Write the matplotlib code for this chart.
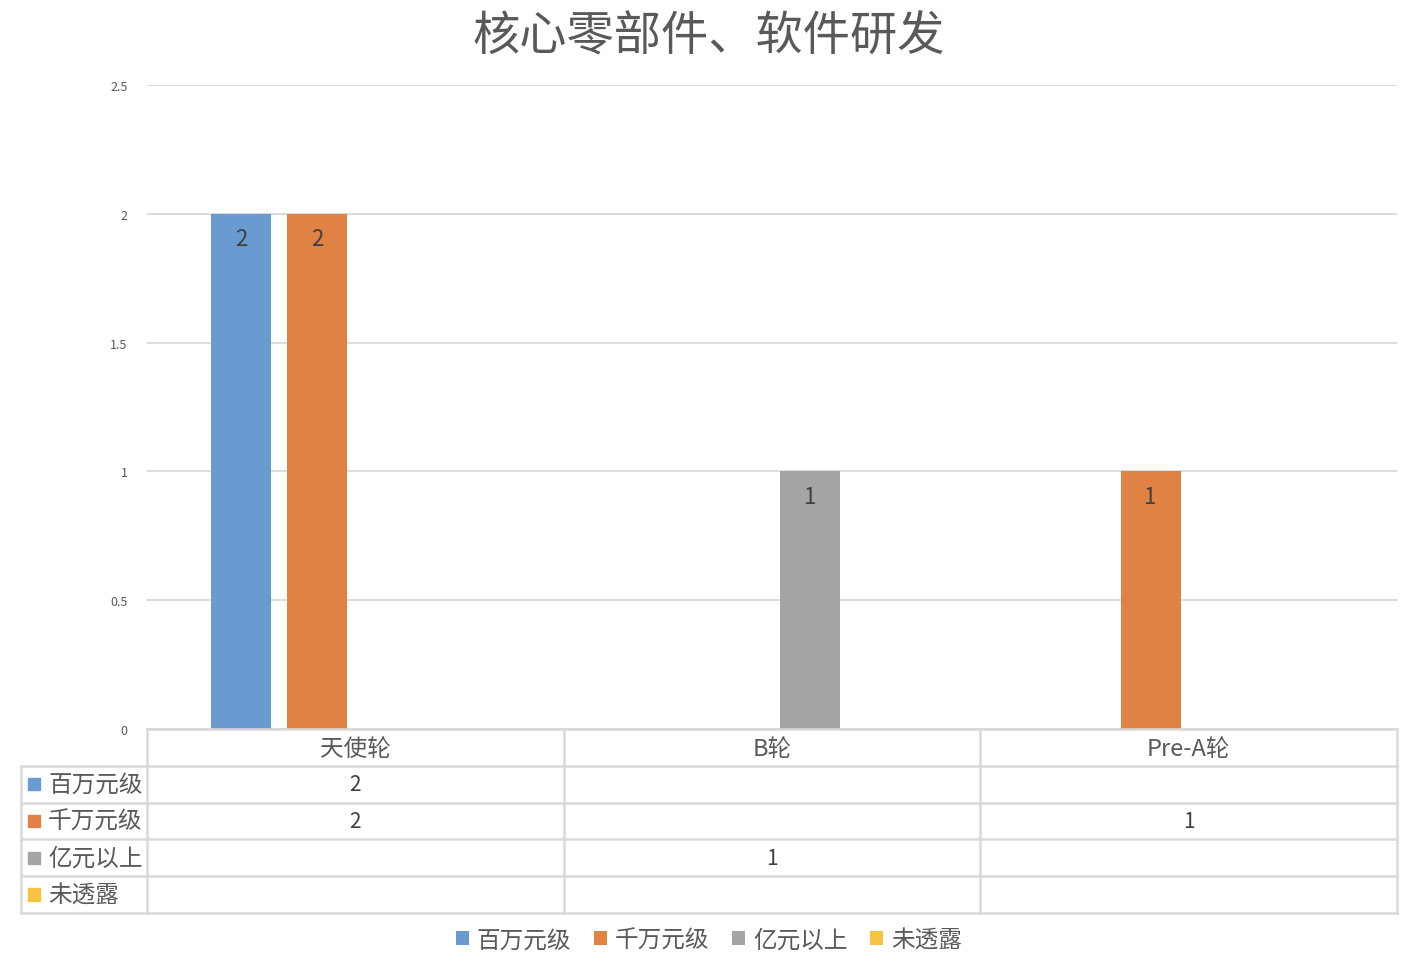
import numpy as np
import matplotlib
matplotlib.use("Agg")
import matplotlib.pyplot as plt
from matplotlib.patches import Patch

plt.rcParams['font.family'] = ['Noto Sans CJK SC', 'DejaVu Sans']

# 数据
categorias = ['天使轮', 'B轮', 'Pre-A轮']
series = ['百万元级', '千万元级', '亿元以上', '未透露']
百万元级 = [2, np.nan, np.nan]
千万元级 = [2, np.nan, 1]
亿元以上 = [np.nan, 1, np.nan]
未透露 = [np.nan, np.nan, np.nan]
valores = [百万元级, 千万元级, 亿元以上, 未透露]
colores = ['#6A9BD0', '#E08244', '#A5A5A5', '#F6C342']

titulo = '核心零部件、软件研发'
yticks = [0, 0.5, 1, 1.5, 2, 2.5]
ytick_labels = ['0', '0.5', '1', '1.5', '2', '2.5']

W, H = 1418, 970
fig = plt.figure(figsize=(W / 100, H / 100), dpi=100)

# ejes principales (en pixeles de la imagen)
izq, der, arriba, abajo = 147, 1397, 86, 730
ax = fig.add_axes([izq / W, (H - abajo) / H, (der - izq) / W, (abajo - arriba) / H])

px_por_unidad = (der - izq) / 3
ancho = 60 / px_por_unidad
paso = 76 / px_por_unidad
x = np.arange(len(categorias))

for i, (nombre, vals, col) in enumerate(zip(series, valores, colores)):
    v = np.nan_to_num(np.array(vals, dtype=float))
    pos = x + (i - 1.5) * paso
    barras = ax.bar(pos, v, width=ancho, color=col, zorder=3)
    for b, val in zip(barras, vals):
        if not np.isnan(val):
            ax.annotate(f'{val:g}', (b.get_x() + b.get_width() / 2, b.get_height()),
                        xytext=(0, -18), textcoords='offset points',
                        ha='center', va='center', fontsize=16, color='#404040')

ax.set_xlim(-0.5, 2.5)
ax.set_ylim(0, 2.5)
ax.set_yticks(yticks)
ax.set_yticklabels(ytick_labels, fontsize=9, color='#595959')
ax.set_xticks([])
ax.tick_params(axis='y', length=0, pad=14)
ax.grid(axis='y', color='#D9D9D9', linewidth=1.3, zorder=0)
for s in ax.spines.values():
    s.set_visible(False)

# tabla de datos debajo del grafico
t_izq, t_arriba, t_abajo = 21, 730, 914
extra = (izq - t_izq) / px_por_unidad
tx = fig.add_axes([t_izq / W, (H - t_abajo) / H, (der - t_izq) / W, (t_abajo - t_arriba) / H])
tx.set_xlim(-0.5 - extra, 2.5)
tx.set_ylim(5, 0)
tx.axis('off')
gris = '#D9D9D9'
lw = 1.8
# lineas horizontales
tx.plot([-0.5, 2.5], [0, 0], color=gris, lw=lw, clip_on=False)
for r in range(1, 6):
    tx.plot([-0.5 - extra, 2.5], [r, r], color=gris, lw=lw, clip_on=False)
# lineas verticales
tx.plot([-0.5 - extra, -0.5 - extra], [1, 5], color=gris, lw=lw, clip_on=False)
for c in np.arange(-0.5, 3, 1):
    tx.plot([c, c], [0, 5], color=gris, lw=lw, clip_on=False)

for j, cat in enumerate(categorias):
    tx.text(j, 0.52, cat, ha='center', va='center', fontsize=17, color='#595959')

for i, (nombre, vals, col) in enumerate(zip(series, valores, colores)):
    fila = i + 1.5
    tx.add_patch(plt.Rectangle((-0.5 - extra + 7 / px_por_unidad, fila - 0.17),
                               12 / px_por_unidad, 0.34, color=col, clip_on=False))
    tx.text(-0.5 - extra + 27 / px_por_unidad, fila, nombre, ha='left', va='center',
            fontsize=17, color='#595959')
    for j, val in enumerate(vals):
        if not np.isnan(val):
            tx.text(j, fila, f'{val:g}', ha='center', va='center', fontsize=15, color='#404040')

fig.text(0.5, 1 - 37 / H, titulo, ha='center', va='center', fontsize=34, color='#595959')

handles = [Patch(facecolor=c, label=n) for n, c in zip(series, colores)]
fig.legend(handles=handles, loc='center', bbox_to_anchor=(0.5, 1 - 941 / H), ncol=4,
           frameon=False, fontsize=17, handlelength=0.55, handleheight=0.55,
           handletextpad=0.35, columnspacing=0.95, labelcolor='#595959')

fig.savefig('out.png', dpi=100, facecolor='white')
